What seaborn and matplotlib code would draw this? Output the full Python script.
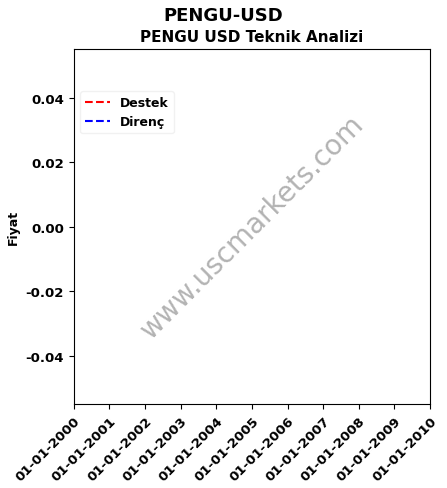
import numpy as np
import pandas as pd
import matplotlib
matplotlib.use("Agg")
import matplotlib.pyplot as plt
import matplotlib.dates as mdates
import seaborn as sns

ticker = "PENGU-USD"
title = "PENGU USD Teknik Analizi"

# No price data available -> empty series
dates = np.array([], dtype="datetime64[ns]")
destek = np.array([], dtype=float)
direnc = np.array([], dtype=float)

# matplotlib's default range for an empty date axis
x_start = pd.Timestamp("2000-01-01")
x_end = pd.Timestamp("2010-01-01")

sns.set_style("ticks", {"axes.edgecolor": "black", "xtick.color": "black", "ytick.color": "black",
                        "text.color": "black", "axes.labelcolor": "black"})
plt.rcParams['font.family'] = ['DejaVu Sans']
plt.rcParams['axes.unicode_minus'] = False

fig, ax = plt.subplots(figsize=(4.47, 4.89), dpi=100)

ax.plot(dates, destek, color="red", linestyle="--", label="Destek")
ax.plot(dates, direnc, color="blue", linestyle="--", label="Direnç")

ax.set_xlim(x_start, x_end)
ax.xaxis.set_major_locator(mdates.YearLocator())
ax.xaxis.set_major_formatter(mdates.DateFormatter("%d-%m-%Y"))
ax.set_ylim(-0.055, 0.055)

ax.tick_params(axis="both", labelsize=9.5)
for lbl in ax.get_xticklabels():
    lbl.set_rotation(45)
    lbl.set_ha("right")
    lbl.set_rotation_mode("anchor")
    lbl.set_fontweight("bold")
for lbl in ax.get_yticklabels():
    lbl.set_fontweight("bold")

ax.set_ylabel("Fiyat", fontsize=9, fontweight="bold")
ax.set_title(title, fontsize=11, fontweight="bold")
fig.suptitle(ticker, fontsize=13, fontweight="bold", y=0.985)

leg = ax.legend(loc="upper left", bbox_to_anchor=(0, 0.9), prop={"weight": "bold", "size": 9})
leg.get_frame().set_edgecolor("#eeeeee")

# watermark
ax.text(0.5, 0.5, "www.uscmarkets.com", transform=ax.transAxes, fontsize=20,
        color="gray", alpha=0.6, rotation=45, ha="center", va="center")

fig.subplots_adjust(left=0.165, right=0.962, top=0.897, bottom=0.172)
fig.savefig("out.png", dpi=100)
